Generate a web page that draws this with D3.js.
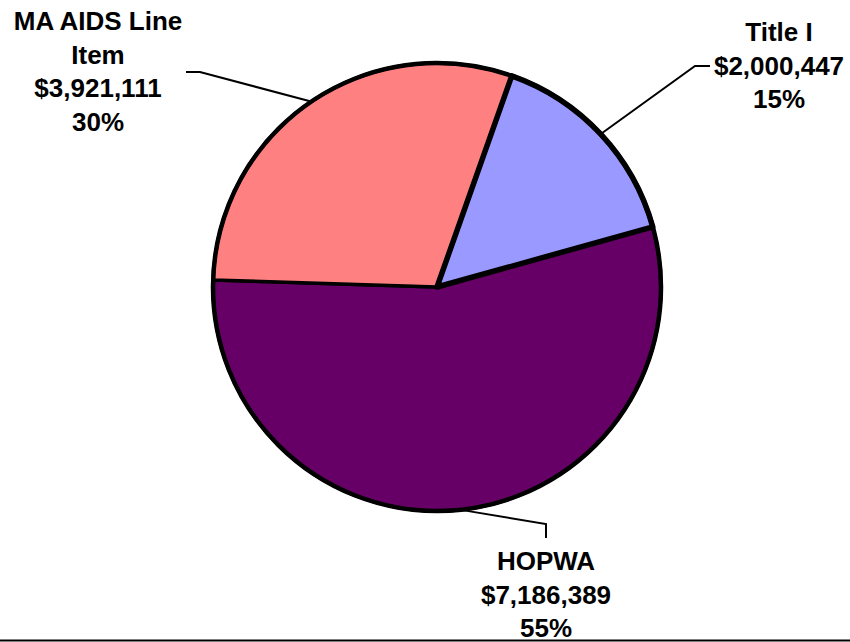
<!DOCTYPE html>
<html>
<head>
<meta charset="utf-8">
<script src="https://cdn.jsdelivr.net/npm/d3@7/dist/d3.min.js"></script>
<style>
  html, body { margin: 0; padding: 0; background: #fff; }
  svg { display: block; }
  text { font-family: "Liberation Sans", Arial, sans-serif; font-weight: bold; font-size: 26px; fill: #000; }
</style>
</head>
<body>
<svg id="chart" width="850" height="642"></svg>
<script>
// Data
const categories = ["Title I", "HOPWA", "MA AIDS Line Item"];
const values = [2000447, 7186389, 3921111];
const percentLabels = ["15%", "55%", "30%"];
const colors = ["#9999FF", "#660066", "#FF8080"];
const labelLines = [["Title I"], ["HOPWA"], ["MA AIDS Line", "Item"]];

const svg = d3.select("#chart");
const cx = 437, cy = 287, r = 224;
const startDeg = 19.5;
const start = startDeg * Math.PI / 180;

const pie = d3.pie().sort(null).value(d => d)
  .startAngle(start).endAngle(start + 2 * Math.PI);
const arcs = pie(values);
const arc = d3.arc().innerRadius(0).outerRadius(r);

const g = svg.append("g").attr("transform", `translate(${cx},${cy})`);

g.selectAll("path.slice").data(arcs).enter().append("path")
  .attr("class", "slice")
  .attr("d", arc)
  .attr("fill", (d, i) => colors[i])
  .attr("stroke", "#000")
  .attr("stroke-width", 3.5)
  .attr("stroke-linejoin", "round");

// Title I slice drawn with heavier border
g.append("path")
  .attr("d", arc(arcs[0]))
  .attr("fill", colors[0])
  .attr("stroke", "#000")
  .attr("stroke-width", 5.5)
  .attr("stroke-linejoin", "round");

// Outer rim
g.append("circle").attr("r", r).attr("fill", "none")
  .attr("stroke", "#000").attr("stroke-width", 4.5);

const fmt = d3.format("$,");

// label layout: center x, first baseline, elbow path
const labelPos = [
  { x: 779, y: 41, elbow: [[695, 66], [710, 66]] },
  { x: 546, y: 570, elbow: [[546, 524], [546, 538]] },
  { x: 98, y: 30, elbow: [[200, 72], [186, 72]] }
];
const lineH = 33.5;

arcs.forEach((a, i) => {
  const mid = (a.startAngle + a.endAngle) / 2;
  const px = cx + (r + 1) * Math.sin(mid);
  const py = cy - (r + 1) * Math.cos(mid);
  const pts = [[px, py]].concat(labelPos[i].elbow);
  svg.append("path")
    .attr("d", d3.line()(pts))
    .attr("fill", "none").attr("stroke", "#000").attr("stroke-width", 2);

  const lines = labelLines[i].concat([fmt(values[i]), percentLabels[i]]);
  const t = svg.append("text").attr("text-anchor", "middle");
  lines.forEach((s, k) => {
    t.append("tspan").attr("x", labelPos[i].x)
      .attr("y", labelPos[i].y + k * lineH).text(s);
  });
});

// bottom border line
svg.append("line").attr("x1", 0).attr("x2", 850)
  .attr("y1", 640.5).attr("y2", 640.5)
  .attr("stroke", "#000").attr("stroke-width", 2);
</script>
</body>
</html>
